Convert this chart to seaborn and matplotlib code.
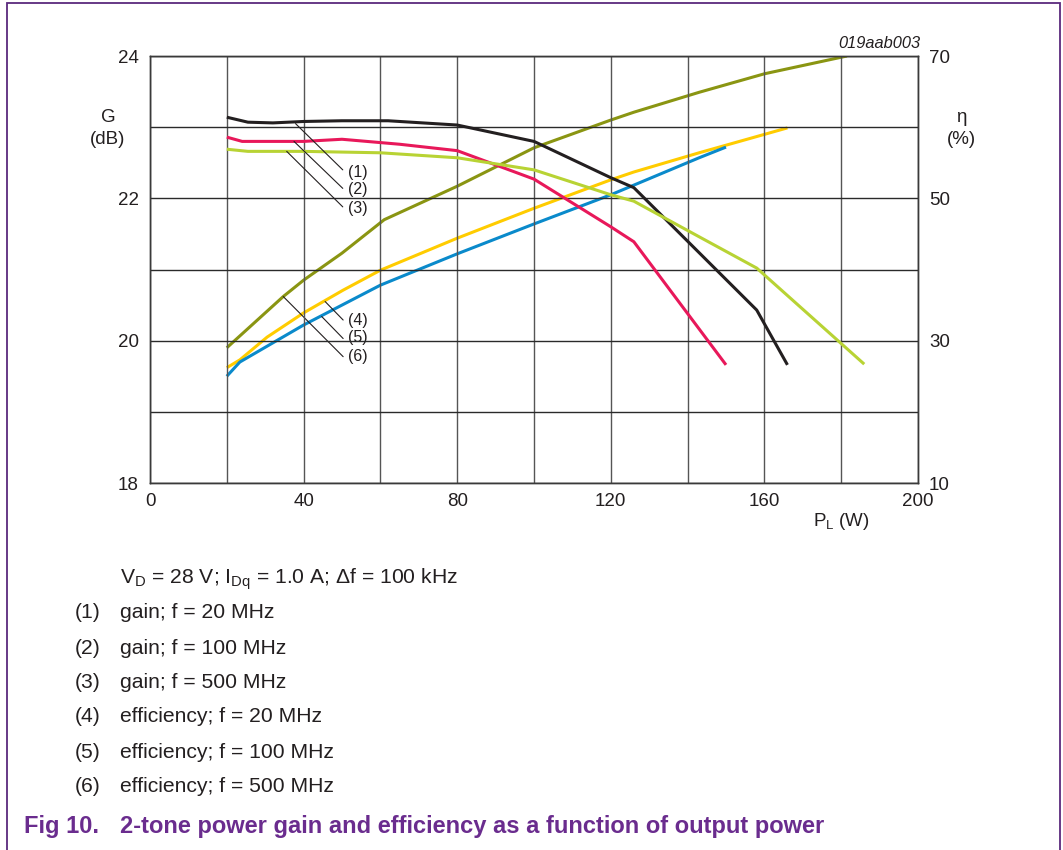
import numpy as np
import pandas as pd
import matplotlib
matplotlib.use("Agg")
import matplotlib.pyplot as plt
from matplotlib.patches import Rectangle
import seaborn as sns

# ---------------- data ----------------
p_gain1 = [20, 25.5, 32, 40, 50, 62, 80, 100, 120, 126, 158, 166]
g_gain1 = [23.14, 23.07, 23.06, 23.08, 23.09, 23.09, 23.03, 22.80, 22.29, 22.15, 20.43, 19.66]

p_gain2 = [20, 24, 40, 50, 65, 80, 100, 120, 126, 150]
g_gain2 = [22.86, 22.80, 22.80, 22.83, 22.76, 22.67, 22.27, 21.60, 21.39, 19.66]

p_gain3 = [20, 25.5, 40, 60, 80, 100, 120, 126, 143, 158, 186]
g_gain3 = [22.69, 22.66, 22.66, 22.64, 22.57, 22.40, 22.05, 21.96, 21.46, 21.02, 19.67]

p_eff1 = [20, 34.7, 40, 50, 61, 80, 100, 120, 126, 143, 160, 181.5]
e_eff1 = [29.0, 36.2, 38.5, 42.3, 47.0, 51.7, 57.1, 61.0, 62.1, 64.9, 67.5, 70.0]

p_eff2 = [20, 23.4, 30.5, 40, 50.3, 60, 80, 100, 120, 126, 143, 166]
e_eff2 = [26.2, 27.3, 30.5, 33.9, 37.1, 39.9, 44.4, 48.6, 52.6, 53.7, 56.4, 59.9]

p_eff3 = [20, 23.4, 40, 60, 80, 100, 120, 143, 150]
e_eff3 = [25.0, 27.0, 32.2, 37.8, 42.2, 46.4, 50.5, 55.7, 57.2]

x_ticks = [0, 40, 80, 120, 160, 200]
g_ticks = [18, 20, 22, 24]
e_ticks = [10, 30, 50, 70]

legend_items = ["gain; f = 20 MHz", "gain; f = 100 MHz", "gain; f = 500 MHz",
                "efficiency; f = 20 MHz", "efficiency; f = 100 MHz", "efficiency; f = 500 MHz"]

# ---------------- style ----------------
sns.set_theme(style="white")
plt.rcParams["font.family"] = ["Liberation Sans", "DejaVu Sans"]
plt.rcParams["mathtext.fontset"] = "custom"
plt.rcParams["mathtext.rm"] = "Liberation Sans"
plt.rcParams["mathtext.it"] = "Liberation Sans:italic"
plt.rcParams["mathtext.bf"] = "Liberation Sans:bold"

W, H = 1063, 850
fig = plt.figure(figsize=(W / 100, H / 100), dpi=100)
fig.patch.set_facecolor("white")

def fx(x):
    return x / W

def fy(y):
    return 1 - y / H

L, R, T, B = 150, 918, 56, 483
ax = fig.add_axes([fx(L), fy(B), (R - L) / W, (B - T) / H])
ax2 = ax.twinx()

c_black = "#231f20"
c_red = "#e8185a"
c_lgreen = "#b8d334"
c_olive = "#8a9512"
c_yellow = "#ffcc00"
c_blue = "#0a8acb"
lw = 2.2

def draw(a, xs, ys, color):
    df = pd.DataFrame({"P": xs, "v": ys})
    sns.lineplot(data=df, x="P", y="v", ax=a, color=color, lw=lw, sort=False,
                 estimator=None, solid_capstyle="butt", zorder=3)

draw(ax, p_gain1, g_gain1, c_black)
draw(ax, p_gain2, g_gain2, c_red)
draw(ax, p_gain3, g_gain3, c_lgreen)
draw(ax2, p_eff1, e_eff1, c_olive)
draw(ax2, p_eff2, e_eff2, c_yellow)
draw(ax2, p_eff3, e_eff3, c_blue)

ax.set_xlim(0, 200)
ax.set_ylim(18, 24)
ax2.set_ylim(10, 70)

ax.set_xticks(np.arange(0, 201, 20), minor=True)
ax.set_xticks(x_ticks)
ax.set_yticks(np.arange(18, 24.01, 1), minor=True)
ax.set_yticks(g_ticks)
ax2.set_yticks(e_ticks)

grid_c = "#3a3a3a"
ax.grid(True, which="both", axis="y", color="#2a2a2a", lw=1.0, zorder=0)
ax.grid(True, which="both", axis="x", color="#555555", lw=1.0, zorder=0)
ax2.grid(False)
for a in (ax, ax2):
    for s in a.spines.values():
        s.set_color(grid_c)
        s.set_linewidth(1.0)
ax.set_xlabel("")
ax.set_ylabel("")
ax2.set_ylabel("")
tfs = 13.5
ax.tick_params(axis="both", which="both", length=0, labelsize=tfs, colors="#231f20")
ax.tick_params(axis="y", pad=8)
ax.tick_params(axis="x", pad=7)
ax2.tick_params(axis="y", which="both", length=0, labelsize=tfs, pad=8, colors="#231f20")
ax.set_zorder(ax2.get_zorder() + 1)
ax.patch.set_visible(False)

# axis titles
txt_c = "#231f20"
fig.text(fx(108), fy(118), "G", ha="center", va="center", fontsize=tfs, color=txt_c)
fig.text(fx(108), fy(139), "(dB)", ha="center", va="center", fontsize=tfs, color=txt_c)
fig.text(fx(961), fy(118), "η", ha="center", va="center", fontsize=tfs, color=txt_c)
fig.text(fx(961), fy(140), "(%)", ha="center", va="center", fontsize=tfs, color=txt_c)
fig.text(fx(841), fy(522), r"P$_\mathrm{L}$ (W)", ha="center", va="center", fontsize=tfs, color=txt_c)
fig.text(fx(920), fy(44), "019aab003", ha="right", va="center", fontsize=11.8,
         style="italic", color=txt_c)

# leader lines and labels on gain axis
gain_leaders = [((37.9, 23.05), (50.2, 22.40), 22.37, "(1)"),
                ((37.5, 22.80), (50.2, 22.14), 22.12, "(2)"),
                ((35.6, 22.66), (50.2, 21.88), 21.86, "(3)")]
for (x0, y0), (x1, y1), yl, lab in gain_leaders:
    ax.plot([x0, x1], [y0, y1], color=txt_c, lw=0.8, zorder=4)
    ax.text(51.6, yl, lab, ha="left", va="center", fontsize=11.5, color=txt_c, zorder=5)

eff_leaders = [((45.6, 35.5), (50.3, 32.9), 32.9, "(4)"),
               ((44.7, 33.4), (50.3, 30.3), 30.4, "(5)"),
               ((34.7, 36.2), (50.3, 27.75), 27.8, "(6)")]
for (x0, y0), (x1, y1), yl, lab in eff_leaders:
    ax2.plot([x0, x1], [y0, y1], color=txt_c, lw=0.8, zorder=4)
    ax2.text(51.6, yl, lab, ha="left", va="center", fontsize=11.5, color=txt_c, zorder=5)

# conditions and legend text
fs_b = 15.2
fig.text(fx(120), fy(579), r"V$_\mathrm{D}$ = 28 V; I$_\mathrm{Dq}$ = 1.0 A; Δf = 100 kHz",
         ha="left", va="center", fontsize=fs_b, color=txt_c)
ys = [613, 648, 683, 717, 752, 787]
for i, (yy, item) in enumerate(zip(ys, legend_items)):
    fig.text(fx(75), fy(yy), f"({i + 1})", ha="left", va="center", fontsize=fs_b, color=txt_c)
    fig.text(fx(120), fy(yy), item, ha="left", va="center", fontsize=fs_b, color=txt_c)

purple = "#6a2c8e"
fig.text(fx(24), fy(827), "Fig 10.", ha="left", va="center", fontsize=17,
         fontweight="bold", color=purple)
fig.text(fx(120), fy(827), "2-tone power gain and efficiency as a function of output power",
         ha="left", va="center", fontsize=17, fontweight="bold", color=purple)

# frame
fig.patches.append(Rectangle((fx(7), fy(870)), (1060 - 7) / W, (870 - 3) / H,
                             transform=fig.transFigure, fill=False,
                             edgecolor="#5b2a7d", lw=1.3, clip_on=False))

fig.savefig("out.png", dpi=100, facecolor="white")
